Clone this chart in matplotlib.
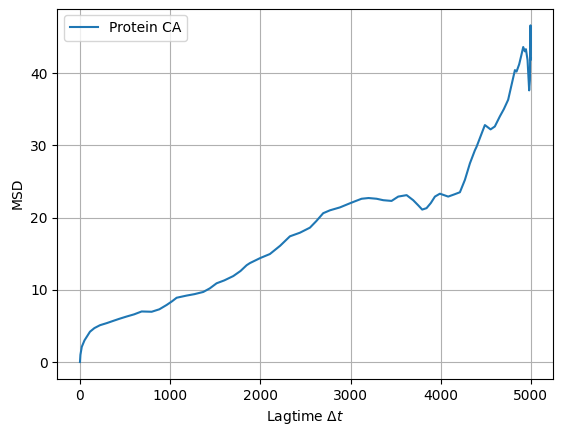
import matplotlib
matplotlib.use("Agg")
import matplotlib.pyplot as plt

# values
lagtime = [0, 5, 20, 50, 111, 160, 222, 300, 369, 440, 517, 600, 684, 795, 880, 961,
           1020, 1072, 1183, 1270, 1367, 1440, 1515, 1600, 1700, 1780, 1848, 1885, 2000,
           2106, 2220, 2328, 2439, 2550, 2620, 2697, 2772, 2882, 2993, 3060, 3123, 3200,
           3289, 3363, 3455, 3529, 3622, 3695, 3750, 3795, 3843, 3890, 3936, 3991, 4083,
           4150, 4213, 4268, 4324, 4379, 4398, 4450, 4490, 4553, 4600, 4656, 4700, 4748,
           4790, 4823, 4841, 4870, 4895, 4915, 4933, 4945, 4963, 4981, 4989, 4996, 4998, 5000]
msd = [0.0, 1.0, 2.1, 3.0, 4.2, 4.7, 5.1, 5.4, 5.7, 6.0, 6.3, 6.6, 7.0, 6.96, 7.3, 7.9,
       8.4, 8.9, 9.2, 9.4, 9.7, 10.2, 10.9, 11.3, 11.9, 12.6, 13.4, 13.7, 14.4,
       14.95, 16.1, 17.4, 17.9, 18.6, 19.5, 20.6, 21.0, 21.4, 21.97, 22.3, 22.6, 22.7,
       22.6, 22.4, 22.3, 22.9, 23.1, 22.4, 21.7, 21.1, 21.3, 22.0, 22.9, 23.3, 22.9,
       23.2, 23.5, 25.2, 27.5, 29.3, 29.8, 31.5, 32.8, 32.2, 32.6, 34.0, 35.0, 36.3,
       38.6, 40.4, 40.2, 41.2, 42.5, 43.6, 43.0, 43.3, 41.8, 37.6, 39.0, 46.6, 41.8, 42.0]

fig = plt.figure(figsize=(5.63, 4.36), dpi=100)
ax = fig.add_subplot(111)
fig.subplots_adjust(left=0.102, right=0.983, top=0.9805, bottom=0.131)

ax.plot(lagtime, msd, label="Protein CA")
ax.set_xlabel(r"Lagtime $\Delta t$")
ax.set_ylabel("MSD")
ax.grid(True)
ax.legend(loc="upper left")

fig.savefig("out.png", dpi=100)
